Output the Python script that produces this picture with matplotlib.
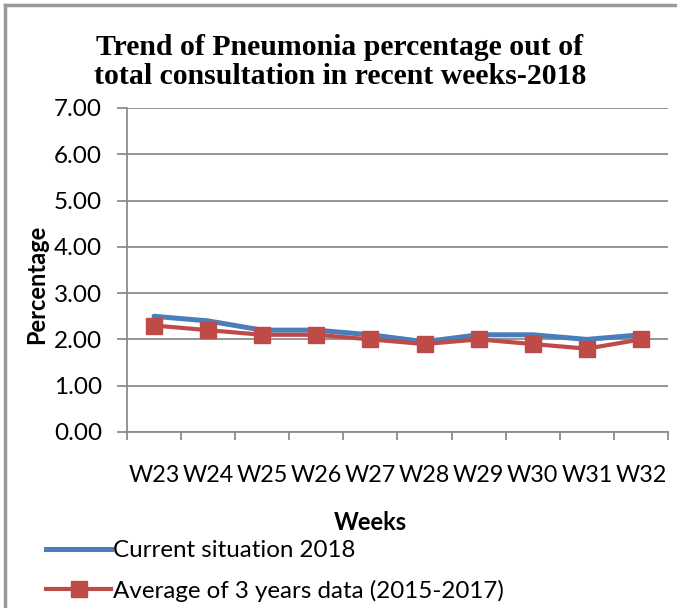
import matplotlib.pyplot as plt
from matplotlib.lines import Line2D

weeks = ["W23", "W24", "W25", "W26", "W27", "W28", "W29", "W30", "W31", "W32"]
current_2018 = [2.5, 2.4, 2.2, 2.2, 2.1, 1.95, 2.1, 2.1, 2.0, 2.1]
avg_2015_2017 = [2.3, 2.2, 2.1, 2.1, 2.0, 1.9, 2.0, 1.9, 1.8, 2.0]
yticks = [0, 1, 2, 3, 4, 5, 6, 7]

sans = ["Lato", "DejaVu Sans"]
grey = "#8c8c8c"

fig = plt.figure(figsize=(6.77, 6.08), dpi=100)
ax = fig.add_axes([0.1876, 0.2895, 0.799, 0.5329])

x = list(range(len(weeks)))
ax.plot(x, current_2018, color="#4a7ebb", lw=3.6, solid_capstyle="round",
        label="Current situation 2018", zorder=3)
ax.plot(x, avg_2015_2017, color="#be4b48", lw=3.0, marker="s", markersize=12,
        label="Average of 3 years data (2015-2017)", zorder=4)

ax.set_xlim(-0.5, len(weeks) - 0.5)
ax.set_ylim(0, 7)
ax.set_yticks(yticks)
ax.set_yticklabels([f"{v:.2f}" for v in yticks], family=sans, fontsize=17.5)
ax.set_xticks(x)
ax.set_xticklabels(weeks, family=sans, fontsize=16.8)
ax.tick_params(axis="x", length=0, pad=24)
ax.set_xticks([i - 0.5 for i in range(len(weeks) + 1)], minor=True)
ax.tick_params(axis="x", which="minor", length=6, width=1.3, color=grey, direction="out")
ax.tick_params(axis="y", length=7, width=1.3, color=grey, pad=11)
ax.grid(axis="y", color=grey, lw=1.3)
ax.set_axisbelow(True)
for side in ["top", "right"]:
    ax.spines[side].set_visible(False)
for side in ["left", "bottom"]:
    ax.spines[side].set_color(grey)
    ax.spines[side].set_linewidth(1.3)

ax.set_ylabel("Percentage", family=sans, fontsize=17, fontweight="bold")
ax.yaxis.set_label_coords(-0.146, 0.455)
fig.text(0.547, 0.14, "Weeks", family=sans, fontsize=17, fontweight="bold",
         ha="center", va="center")

fig.text(0.502, 0.898, "Trend of Pneumonia percentage out of\ntotal consultation in recent weeks-2018",
         family="Liberation Serif", fontsize=21.4, fontweight="bold",
         ha="center", va="center", linespacing=1.1)

handles = [Line2D([], [], color="#4a7ebb", lw=3.6),
           Line2D([], [], color="#be4b48", lw=3.0, marker="s", markersize=12)]
leg = fig.legend(handles, ["Current situation 2018", "Average of 3 years data (2015-2017)"],
                 loc="upper left", bbox_to_anchor=(0.054, 0.127), frameon=False,
                 prop={"family": sans, "size": 17.4}, handlelength=2.7,
                 handletextpad=0.05, labelspacing=0.75, borderaxespad=0)

# outer chart frame (left and top edges visible)
fig.add_artist(Line2D([0.0075, 0.0075], [0, 0.992], color="#999999", lw=2.5,
                      transform=fig.transFigure))
fig.add_artist(Line2D([0.0075, 1], [0.992, 0.992], color="#999999", lw=2.5,
                      transform=fig.transFigure))

fig.savefig("out.png", dpi=100)
